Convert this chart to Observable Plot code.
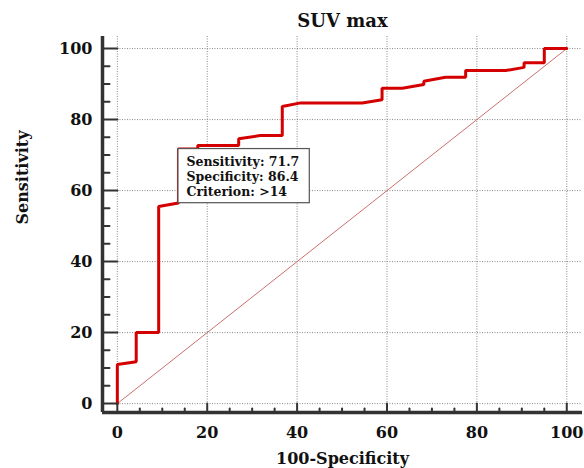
<!DOCTYPE html>
<html><head><meta charset="utf-8">
<script src="https://cdn.jsdelivr.net/npm/d3@7"></script>
<script src="https://cdn.jsdelivr.net/npm/@observablehq/plot@0.6"></script>
<style>body{margin:0;background:#fff}</style>
</head><body><div id="chart"></div>
<script>
// ROC curve (100-Specificity, Sensitivity)
const fpr = [0, 0, 4.2, 4.2, 9.2, 9.2, 13.6, 13.6, 17.9, 17.9, 27.0, 27.0, 31.8, 36.7, 36.7, 40.8, 54.5, 58.9, 58.9, 63.4, 68.2, 68.2, 73.0, 77.5, 77.5, 86.4, 90.5, 90.5, 95.0, 95.0, 100];
const tpr = [0, 11.0, 11.8, 20.0, 20.0, 55.5, 56.5, 71.7, 71.7, 72.7, 72.7, 74.6, 75.5, 75.5, 83.7, 84.7, 84.7, 85.6, 88.8, 88.8, 89.9, 90.8, 91.9, 91.9, 93.8, 93.8, 94.7, 96.0, 96.0, 100, 100];
const diagonal = [0, 100];
const xMajor = [0, 20, 40, 60, 80, 100];
const yMajor = [0, 20, 40, 60, 80, 100];
const minorTicks = [5, 10, 15, 25, 30, 35, 45, 50, 55, 65, 70, 75, 85, 90, 95];
const xDomain = [-3.3, 103.5];
const yDomain = [-2.5, 103.4];
const title = "SUV max";
const xLabel = "100-Specificity";
const yLabel = "Sensitivity";
const criterionSensitivity = 71.7;
const criterionSpecificity = 86.4;
const annotLines = ["Sensitivity: 71.7", "Specificity: 86.4", "Criterion: >14"];

const roc = fpr.map((x, i) => ({x, y: tpr[i]}));
const annot = [{x: 100 - criterionSpecificity, y: criterionSensitivity, text: annotLines.join("\n")}];
const tickShape = {draw(ctx, l) { ctx.moveTo(0, 0); ctx.lineTo(0, -l); }};
const axisColor = "#333";

const chart = Plot.plot({
  width: 584,
  height: 468,
  marginLeft: 102,
  marginRight: 2,
  marginTop: 36,
  marginBottom: 56,
  style: {fontFamily: "'DejaVu Serif', serif", background: "#fff", color: "#111"},
  x: {domain: xDomain, axis: null},
  y: {domain: yDomain, axis: null},
  marks: [
    Plot.ruleX(xMajor, {x: d => d, stroke: "#888", strokeWidth: 1, strokeDasharray: "1,1.5"}),
    Plot.ruleY(yMajor, {y: d => d, stroke: "#888", strokeWidth: 1, strokeDasharray: "1,1.5"}),
    Plot.line(diagonal, {x: d => d, y: d => d, stroke: "#c87070", strokeWidth: 1}),
    Plot.line(roc, {x: "x", y: "y", stroke: "#d40000", strokeWidth: 3, strokeLinejoin: "miter"}),
    // axis lines
    Plot.ruleX([xDomain[0]], {stroke: axisColor, strokeWidth: 3.5}),
    Plot.ruleY([yDomain[0]], {stroke: axisColor, strokeWidth: 3.5}),
    // ticks
    Plot.vector(yMajor, {y: d => d, frameAnchor: "left", rotate: 90, length: 15, anchor: "start", shape: tickShape, stroke: axisColor, strokeWidth: 2}),
    Plot.vector(minorTicks, {y: d => d, frameAnchor: "left", rotate: 90, length: 7, anchor: "start", shape: tickShape, stroke: axisColor, strokeWidth: 2}),
    Plot.vector(xMajor, {x: d => d, frameAnchor: "bottom", rotate: 0, length: 9, anchor: "start", shape: tickShape, stroke: axisColor, strokeWidth: 2}),
    Plot.vector(minorTicks, {x: d => d, frameAnchor: "bottom", rotate: 0, length: 4, anchor: "start", shape: tickShape, stroke: axisColor, strokeWidth: 2}),
    // tick labels
    Plot.text(yMajor, {y: d => d, frameAnchor: "left", text: d => String(d), textAnchor: "end", lineAnchor: "middle", dx: -10, fontSize: 16, fontWeight: "bold"}),
    Plot.text(xMajor, {x: d => d, frameAnchor: "bottom", text: d => String(d), lineAnchor: "middle", dy: 20, fontSize: 16, fontWeight: "bold"}),
    // titles
    Plot.text([title], {frameAnchor: "top", text: d => d, lineAnchor: "middle", dy: -15, fontSize: 18, fontWeight: "bold"}),
    Plot.text([xLabel], {frameAnchor: "bottom", text: d => d, lineAnchor: "middle", dy: 46, fontSize: 16, fontWeight: "bold"}),
    Plot.text([yLabel], {frameAnchor: "left", text: d => d, lineAnchor: "middle", dx: -80, rotate: -90, fontSize: 16, fontWeight: "bold"}),
    // annotation
    Plot.text(annot, {x: "x", y: "y", text: "text", textAnchor: "start", lineAnchor: "top", dx: 8, dy: 6, fontSize: 12.5, fontWeight: "bold", lineHeight: 1.2})
  ]
});
document.getElementById("chart").append(chart);

// box behind the annotation text
(function () {
  const svgNode = chart.tagName.toLowerCase() === "svg" ? chart : chart.querySelector("svg");
  const annotText = Array.from(svgNode.querySelectorAll("text")).find(t => (t.textContent || "").indexOf("Criterion") >= 0);
  if (!annotText) return;
  const r = annotText.getBoundingClientRect();
  const s = svgNode.getBoundingClientRect();
  const bx = r.left - s.left, by = r.top - s.top, bw = r.width, bh = r.height;
  let px = bx - 9, py = by - 5;
  try {
    const ax = chart.scale("x").apply(annot[0].x), ay = chart.scale("y").apply(annot[0].y);
    if (isFinite(ax) && isFinite(ay)) { px = ax; py = ay; }
  } catch (e) {}
  const rect = document.createElementNS("http://www.w3.org/2000/svg", "rect");
  rect.setAttribute("x", px);
  rect.setAttribute("y", py);
  rect.setAttribute("width", Math.max(10, bx + bw + 10 - px));
  rect.setAttribute("height", Math.max(10, by + bh + 4 - py));
  rect.setAttribute("fill", "#ffffff");
  rect.setAttribute("stroke", "#555555");
  rect.setAttribute("stroke-width", "1.2");
  let node = annotText;
  while (node.parentNode && node.parentNode !== svgNode) node = node.parentNode;
  svgNode.insertBefore(rect, node);
})();
</script>
</body></html>
